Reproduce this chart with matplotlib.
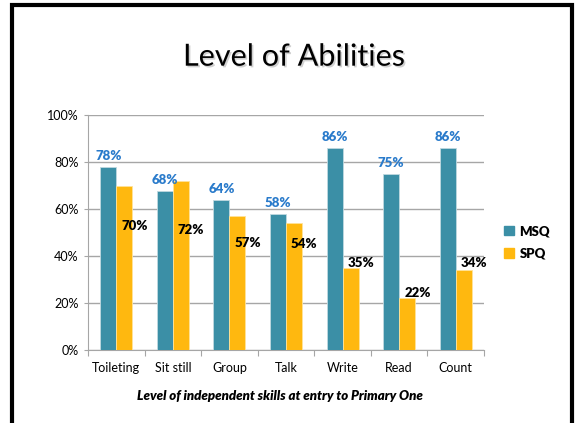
import matplotlib
matplotlib.use('Agg')
import matplotlib.pyplot as plt
import matplotlib.patheffects as pe
from matplotlib.patches import Rectangle
import numpy as np

plt.rcParams['font.family'] = ['Lato', 'DejaVu Sans']

skills = ['Toileting', 'Sit still', 'Group', 'Talk', 'Write', 'Read', 'Count']
msq = [78, 68, 64, 58, 86, 75, 86]
spq = [70, 72, 57, 54, 35, 22, 34]
# heights where the SPQ value labels sit
spq_label_y = [53, 51, 45.5, 45, 37, 24.5, 37]

teal = '#3B8FA6'
yellow = '#FFB80F'
grid = '#A6A6A6'

fig = plt.figure(figsize=(5.76, 4.23), dpi=100)
ax = fig.add_axes([0.1528, 0.1726, 0.6875, 0.5544])

x = np.arange(len(skills))
w = 0.283
ax.bar(x - w / 2, msq, w, color=teal, edgecolor='#BFD9E0', linewidth=0.6, zorder=3)
ax.bar(x + w / 2, spq, w, color=yellow, edgecolor='#FFE39A', linewidth=0.6, zorder=3)

for i, v in enumerate(msq):
    ax.annotate(f'{v}%', (i - w / 2, v), xytext=(0, 3.5), textcoords='offset points',
                ha='center', va='bottom', fontsize=9.5, fontweight='heavy', color='#2A7BCB')
for i, v in enumerate(spq):
    ax.text(i + w + 0.04, spq_label_y[i], f'{v}%', ha='center', va='center',
            fontsize=9.5, fontweight='heavy', color='black', zorder=4)

ax.set_xlim(-0.5, len(skills) - 0.5)
ax.set_ylim(0, 100)
ax.set_yticks(range(0, 101, 20))
ax.set_yticklabels([f'{t}%' for t in range(0, 101, 20)], fontsize=9)
ax.yaxis.grid(True, color=grid, linewidth=1, zorder=0)
ax.set_axisbelow(True)

# category labels sit between boundary ticks
ax.set_xticks(np.arange(-0.5, len(skills)), minor=False)
ax.set_xticklabels([])
ax.set_xticks(x, minor=True)
ax.set_xticklabels(skills, minor=True, fontsize=9)
ax.tick_params(axis='x', which='major', length=4, color=grid)
ax.tick_params(axis='x', which='minor', length=0, pad=9)
ax.tick_params(axis='y', length=3, color=grid, pad=4)

for s in ['top', 'right']:
    ax.spines[s].set_visible(False)
for s in ['left', 'bottom']:
    ax.spines[s].set_color(grid)

handles = [Rectangle((0, 0), 1, 1, color=teal), Rectangle((0, 0), 1, 1, color=yellow)]
leg = fig.legend(handles, ['MSQ', 'SPQ'], loc='center left', bbox_to_anchor=(0.855, 0.427),
                 frameon=False, handlelength=0.75, handleheight=0.75, handletextpad=0.4,
                 labelspacing=0.8, prop={'weight': 'heavy', 'size': 9.5})

title = fig.text(0.51, 0.866, 'Level of Abilities', ha='center', va='center', fontsize=22)
title.set_path_effects([pe.SimplePatchShadow(offset=(1.2, -1.2), alpha=0.18), pe.Normal()])

fig.text(0.486, 0.064, 'Level of independent skills at entry to Primary One', ha='center',
         va='center', fontsize=9.5, fontweight='heavy', fontstyle='italic')

# slide frame
fig.patches.append(Rectangle((12 / 576, -0.05), 560 / 576, 1 - 5.5 / 423 + 0.05,
                             transform=fig.transFigure, fill=False, edgecolor='black',
                             linewidth=3, zorder=10))

fig.savefig('out.png', dpi=100)
